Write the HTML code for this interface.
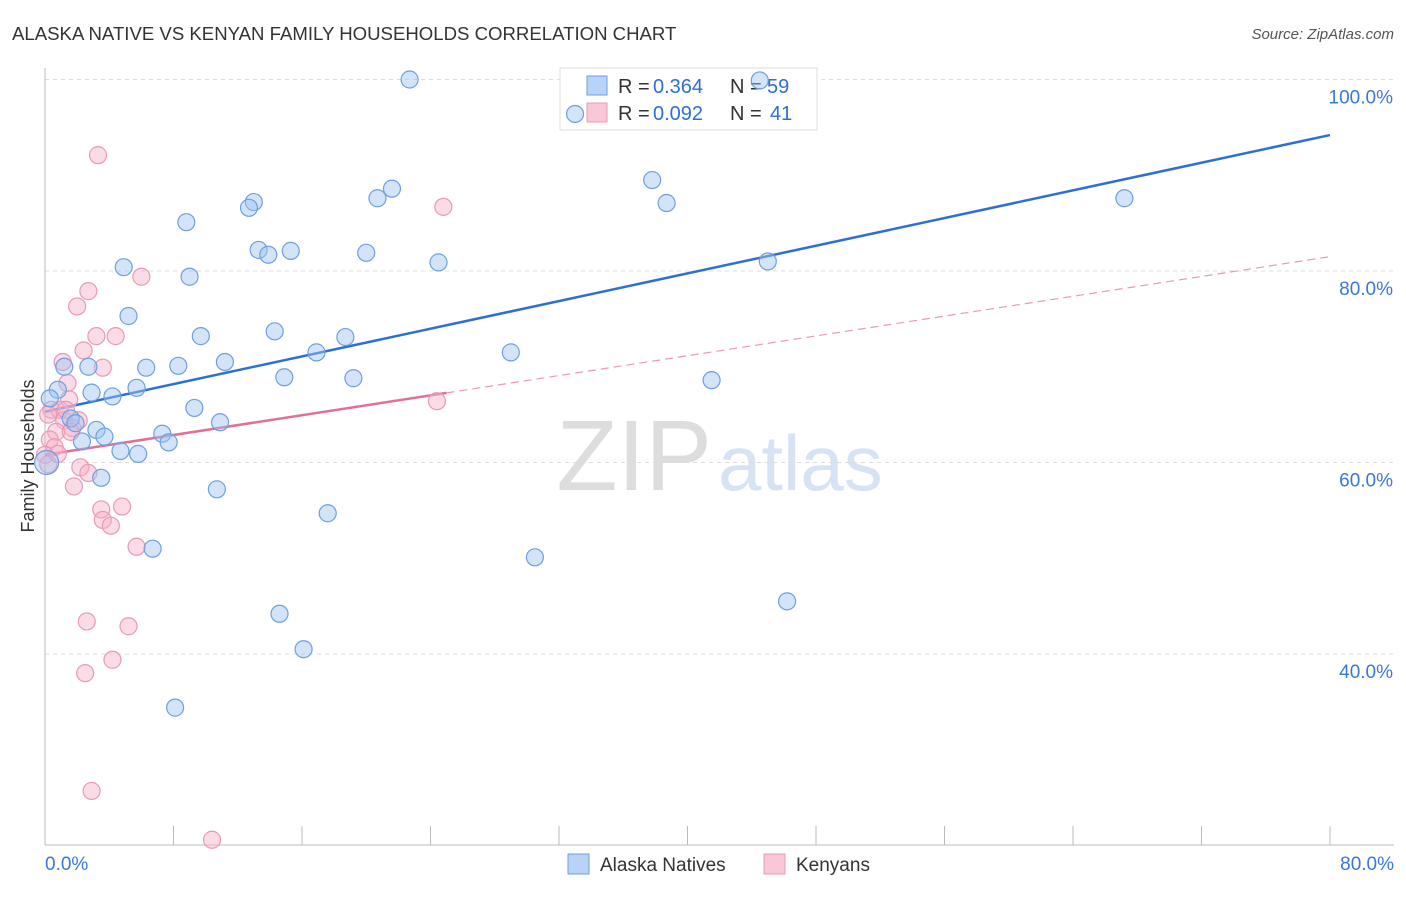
<!DOCTYPE html>
<html><head><meta charset="utf-8"><style>
body{margin:0;background:#fff;font-family:"Liberation Sans",sans-serif;}
svg text{font-family:"Liberation Sans",sans-serif;}
</style></head><body>
<svg id="c" width="1406" height="892">
<text x="12" y="40" font-size="18.6" fill="#333">ALASKA NATIVE VS KENYAN FAMILY HOUSEHOLDS CORRELATION CHART</text>
<text x="1394" y="39" font-size="15" fill="#555" font-style="italic" text-anchor="end">Source: ZipAtlas.com</text>
<text x="712" y="490" font-size="100" fill="#ddd" text-anchor="end" font-family="Liberation Serif">ZIP</text>
<text x="718" y="490" font-size="78" fill="#d6e3f5">atlas</text>
<g id="grid"></g><g id="axes"></g>
<g>
<rect x="560" y="68" width="257" height="62" fill="#fff" stroke="#ddd"/>
<rect x="587" y="76" width="20" height="19" fill="#b8d3f5" stroke="#6d9fe0"/>
<rect x="587" y="103" width="20" height="19" fill="#f9c7d7" stroke="#e89ab5"/>
<text x="618" y="93" font-size="20" fill="#333">R =</text>
<text x="653" y="93" font-size="20" fill="#2c6fd6">0.364</text>
<text x="730" y="93" font-size="20" fill="#333">N =</text>
<text x="767" y="93" font-size="20" fill="#2c6fd6">59</text>
<text x="618" y="120" font-size="20" fill="#333">R =</text>
<text x="653" y="120" font-size="20" fill="#2c6fd6">0.092</text>
<text x="730" y="120" font-size="20" fill="#333">N =</text>
<text x="770" y="120" font-size="20" fill="#2c6fd6">41</text>
</g>
<g id="lines"></g><g id="pts"></g>
<text transform="translate(34,456) rotate(-90)" font-size="18" fill="#333" text-anchor="middle">Family Households</text>
<g>
<rect x="568" y="854" width="21" height="20" fill="#b8d3f5" stroke="#6d9fe0"/>
<text x="600" y="871" font-size="19" fill="#333">Alaska Natives</text>
<rect x="764" y="854" width="21" height="20" fill="#f9c7d7" stroke="#e89ab5"/>
<text x="796" y="871" font-size="19" fill="#333">Kenyans</text>
</g>
</svg>
<script>
const blueX=[22.7,44.5,33.0,67.2,37.8,38.7,21.6,20.7,13.0,12.7,8.8,13.3,13.9,15.3,20.0,24.5,45.0,4.9,9.0,5.2,14.3,9.7,18.7,16.9,29.0,1.2,2.7,6.3,8.3,11.2,14.9,19.2,41.5,0.8,2.9,4.2,5.7,0.3,9.3,1.6,10.9,1.9,3.2,3.7,7.3,7.7,2.3,4.7,5.8,3.5,10.7,17.6,6.7,30.5,46.2,14.6,16.1,8.1,0.1];
const blueY=[100.0,99.9,96.4,87.6,89.5,87.1,88.6,87.6,87.2,86.6,85.1,82.2,81.7,82.1,81.9,80.9,81.0,80.4,79.4,75.3,73.7,73.2,73.1,71.5,71.5,70.0,70.0,69.9,70.1,70.5,68.9,68.8,68.6,67.6,67.3,66.9,67.8,66.7,65.7,64.6,64.2,64.1,63.4,62.7,63.0,62.1,62.2,61.2,60.9,58.4,57.2,54.7,51.0,50.1,45.5,44.2,40.5,34.4,60.0];
const pinkX=[3.3,24.8,6.0,2.7,2.0,3.2,4.4,2.4,1.1,3.6,1.4,1.5,0.4,0.9,1.2,0.2,2.1,1.7,0.7,1.6,24.4,0.3,0.6,0.0,2.2,2.7,1.8,3.5,4.8,3.6,4.1,5.7,2.6,5.2,4.2,2.5,2.9,10.4,0.2,0.8,1.3];
const pinkY=[92.1,86.7,79.4,77.9,76.3,73.2,73.2,71.7,70.5,69.9,68.3,66.6,65.5,65.5,64.4,65.0,64.4,63.6,63.2,63.2,66.4,62.4,61.6,60.8,59.5,58.9,57.5,55.1,55.4,54.0,53.4,51.2,43.4,42.9,39.4,38.0,25.7,20.6,59.8,60.9,65.5];
const blueTrend=[65.3,94.2];
const pinkTrend=[60.8,81.5];
const yTicks=[40,60,80,100];
const xTickLabels=["0.0%","80.0%"];
const NS="http://www.w3.org/2000/svg";
const sx=v=>45+v/80*1285, sy=v=>79.5+(100-v)/20*191.5;
function mk(p,t,a){const e=document.createElementNS(NS,t);for(const k in a)e.setAttribute(k,a[k]);document.getElementById(p).appendChild(e);return e;}
yTicks.forEach(v=>{
 const l=mk('grid','line',{x1:45,x2:1394,y1:sy(v),y2:sy(v),stroke:'#ddd','stroke-dasharray':'4,4'});
 
 
 const t=mk('grid','text',{x:1393,y:sy(v)+24,'font-size':19,fill:'#3a78d8','text-anchor':'end'});
 t.textContent=v.toFixed(1)+'%';
 
 
});
const ax=mk('axes','line',{x1:45,x2:45,y1:68,y2:845,stroke:'#bbb'});


const bx=mk('axes','line',{x1:45,x2:1394,y1:845,y2:845,stroke:'#bbb'});


for(let i=1;i<=10;i++){const t=mk('axes','line',{x1:sx(i*8),x2:sx(i*8),y1:826,y2:845,stroke:'#bbb'});
 
 }
[[0,'start',45],[80,'end',1394]].forEach((d,i)=>{const t=mk('axes','text',{x:d[2],y:870,'font-size':19,fill:'#3a78d8','text-anchor':d[1]});t.textContent=xTickLabels[i];
 
 });
const bl=mk('lines','line',{x1:sx(0),y1:sy(blueTrend[0]),x2:sx(80),y2:sy(blueTrend[1]),stroke:'#2c6fd6','stroke-width':2.5});


const pAt=x=>pinkTrend[0]+(pinkTrend[1]-pinkTrend[0])*x/80;
const pd=mk('lines','line',{x1:sx(25),y1:sy(pAt(25)),x2:sx(80),y2:sy(pAt(80)),stroke:'#e89ab5','stroke-width':1.2,'stroke-dasharray':'8,5'});


const ps=mk('lines','line',{x1:sx(0),y1:sy(pAt(0)),x2:sx(25),y2:sy(pAt(25)),stroke:'#e0709a','stroke-width':2.5});


pinkX.forEach((x,i)=>{const c=mk('pts','circle',{cx:sx(x),cy:sy(pinkY[i]),r:8.5,fill:'rgba(246,178,200,0.45)',stroke:'#e89ab5','stroke-width':1.2});
 
 });
blueX.forEach((x,i)=>{const c=mk('pts','circle',{cx:sx(x),cy:sy(blueY[i]),r:i==blueX.length-1?12:8.5,fill:'rgba(160,196,240,0.45)',stroke:'#6d9fe0','stroke-width':1.2});
 
 });
</script>
</body></html>
